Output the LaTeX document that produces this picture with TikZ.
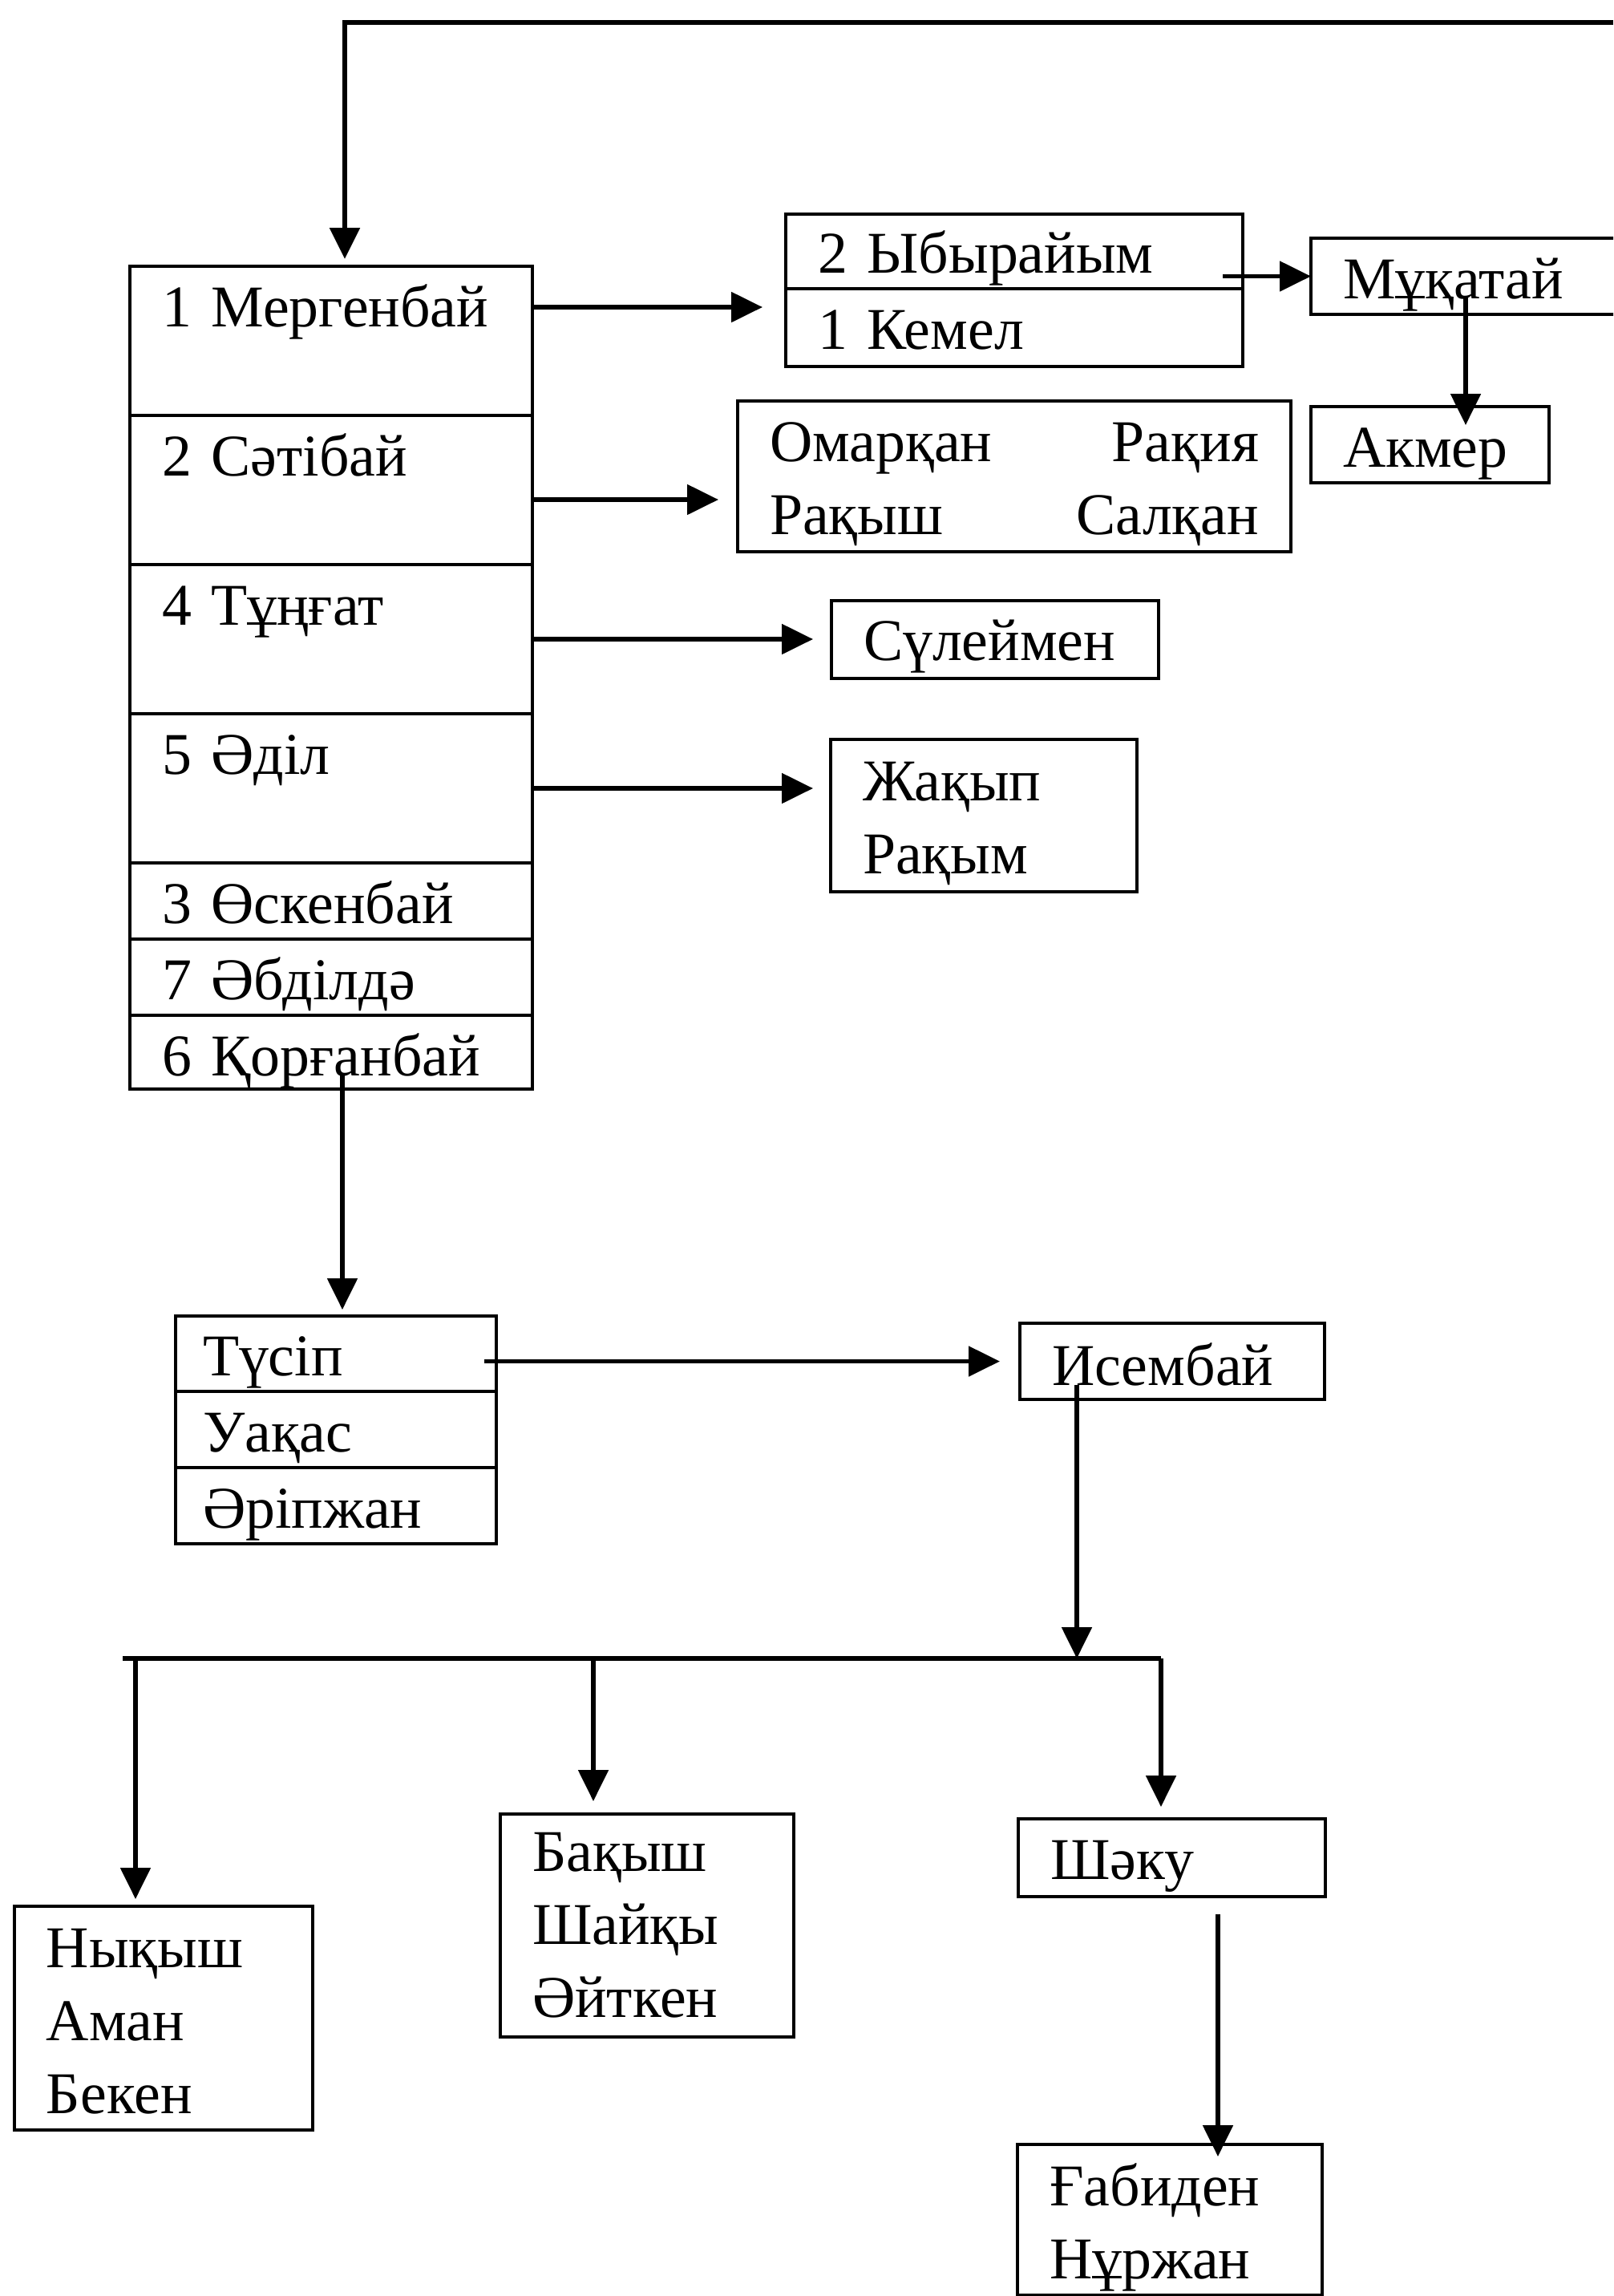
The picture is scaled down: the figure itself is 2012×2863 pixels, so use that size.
\documentclass[tikz,border=0pt]{standalone}
\usepackage{fontspec}
\setmainfont{Liberation Serif}
\usepackage{tikz}
\usetikzlibrary{arrows.meta, positioning}
\newcommand{\kzfont}{\fontsize{21pt}{26pt}\selectfont}

\begin{document}
\begin{tikzpicture}[
    x=0.1mm, y=-0.1mm,
    node distance=0pt,
    cell/.style={rectangle, draw, line width=1.4pt, anchor=north west, outer sep=0pt, inner xsep=4mm, inner ysep=0pt, align=left, font=\kzfont, text height=7.5mm, text depth=2mm},
    tall/.style={cell, text depth=11.1mm},
    arrow/.style={-{Triangle[length=3.9mm, width=3.7mm]}, line width=1.5pt}
]
    \useasboundingbox (0,0) rectangle (2012,2863);
    \clip (0,0) rectangle (2012,2863);

    \node[tall, text width=42.2mm] (m1) at (162,332) {1 Мергенбай};
    \node[tall, text width=42.2mm, below=of m1] (m2) {2 Сәтібай};
    \node[tall, text width=42.2mm, below=of m2] (m3) {4 Тұңғат};
    \node[tall, text width=42.2mm, below=of m3] (m4) {5 Әділ};
    \node[cell, text width=42.2mm, below=of m4] (m5) {3 Өскенбай};
    \node[cell, text width=42.2mm, below=of m5] (m6) {7 Әбділдә};
    \node[cell, text width=42.2mm, below=of m6, text depth=1.7mm] (m7) {6 Қорғанбай};

    \node[cell, text width=49mm, text height=7.3mm] (yb1) at (980,267) {2 Ыбырайым};
    \node[cell, text width=49mm, text depth=2.2mm, below=of yb1] (yb2) {1 Кемел};
    \node[cell, text width=32mm] (muk) at (1635,297) {Мұқатай};
    \node[cell, text width=21.7mm] (akm) at (1635,507) {Акмер};
    \node[tall, text width=61mm, text depth=11.3mm] (om) at (920,500) {Омарқан\hfill Рақия\\Рақыш\hfill Салқан};
    \node[cell, text width=32.8mm, text height=7.4mm, text depth=2.3mm] (sul) at (1037,749) {Сүлеймен};
    \node[tall, text width=30.2mm, text height=7.6mm, text depth=11.4mm] (zh) at (1036,922) {Жақып\\Рақым};

    \node[cell, text width=33.2mm, inner xsep=3.4mm, text height=7.4mm] (ts1) at (219,1641) {Түсіп};
    \node[cell, text width=33.2mm, inner xsep=3.4mm, below=of ts1] (ts2) {Уақас};
    \node[cell, text width=33.2mm, inner xsep=3.4mm, below=of ts2] (ts3) {Әріпжан};
    \node[cell, text width=30mm, text height=7.7mm, text depth=1.8mm] (ise) at (1272,1650) {Исембай};

    \node[cell, text width=29.2mm, text height=7.6mm, text depth=20.3mm] (nyk) at (18,2377) {Нықыш\\Аман\\Бекен};
    \node[cell, text width=28.6mm, text height=7.1mm, text depth=20.7mm] (bak) at (624,2262) {Бақыш\\Шайқы\\Әйткен};
    \node[cell, text width=30.3mm, text depth=2.2mm] (sha) at (1270,2268) {Шәку};
    \node[cell, text width=30mm, text height=7.6mm, text depth=11.2mm] (gab) at (1269,2674) {Ғабиден\\Нұржан};

    \coordinate (topL) at (430,28);
    \coordinate (topR) at (2012,28);
    \coordinate (a1) at ([yshift=2.4mm]m1.base east);
    \coordinate (a2) at ([yshift=-1.2mm]m2.east);
    \coordinate (b1) at ([xshift=-2.5mm]yb1.east);
    \coordinate (b2) at ([xshift=19.3mm, yshift=2.2mm]muk.south west);
    \coordinate (k1) at ([xshift=26.5mm]m7.base west);
    \coordinate (t1) at ([xshift=-1.5mm]ts1.east);
    \coordinate (i1) at ([xshift=7.1mm]ise.base west);
    \coordinate (busL) at (153,2068);
    \coordinate (busR) at (1448,2068);
    \coordinate (n1) at (169,2068);
    \coordinate (n2) at (740,2068);
    \coordinate (s1) at ([xshift=24.9mm]sha.south west);

    \draw[arrow, line width=1.7pt, shorten >=0.9mm] (topR) -- (topL) -- (topL |- m1.north);
    \draw[arrow, shorten >=2.9mm] (a1) -- (a1 -| yb1.west);
    \draw[arrow, shorten >=2.4mm] (a2) -- (a2 -| om.west);
    \draw[arrow, shorten >=2.3mm] (m3.east) -- (m3.east -| sul.west);
    \draw[arrow, shorten >=2.2mm] (m4.east) -- (m4.east -| zh.west);
    \draw[arrow] (b1 |- muk.west) -- (muk.west);
    \draw[arrow, shorten >=-2.3mm] (b2) -- (b2 |- akm.north);
    \draw[arrow, shorten >=0.8mm] (k1) -- (k1 |- ts1.north);
    \draw[arrow, shorten >=2.5mm] (t1 |- ise.west) -- (ise.west);
    \draw[line width=1.6pt] (busL) -- (busR);
    \draw[arrow] (i1) -- (i1 |- busR);
    \draw[arrow, shorten >=0.9mm] (n1) -- (n1 |- nyk.north);
    \draw[arrow, shorten >=1.6mm] (n2) -- (n2 |- bak.north);
    \draw[arrow, shorten >=1.5mm] (busR) -- (busR |- sha.north);
    \draw[arrow, shorten <=2.2mm, shorten >=-1.5mm] (s1) -- (s1 |- gab.north);
\end{tikzpicture}
\end{document}
